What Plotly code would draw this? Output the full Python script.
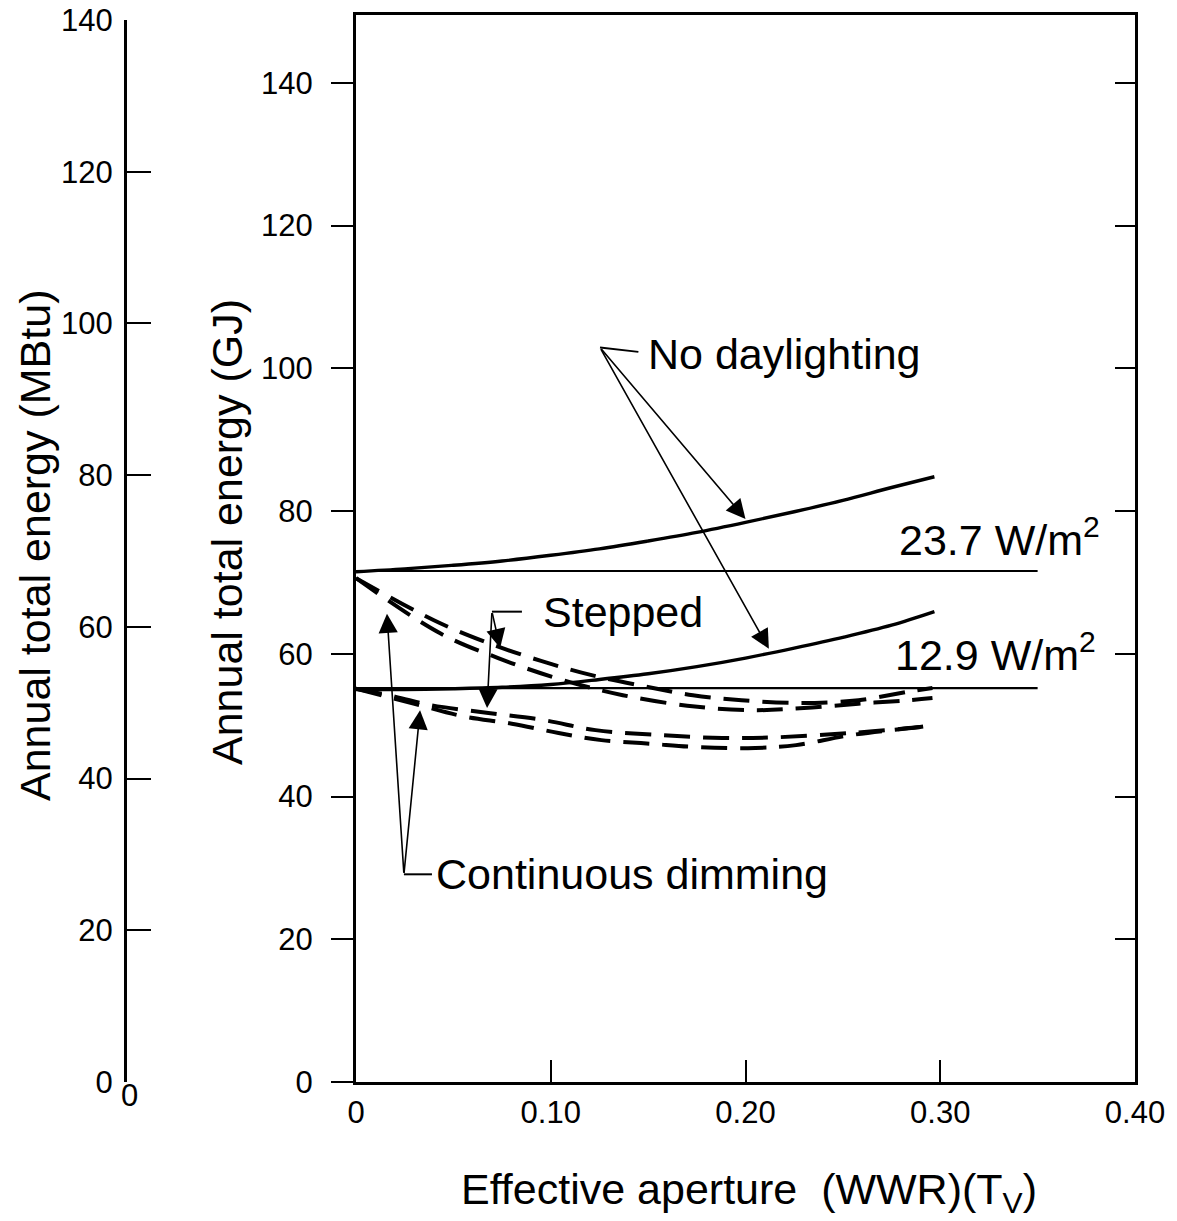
import plotly.graph_objects as go

# ---------------- data ----------------
# No daylighting curves (solid)
x_nd = [0, 0.025, 0.05, 0.075, 0.1, 0.125, 0.15, 0.175, 0.2, 0.225, 0.25, 0.275, 0.297]
nd_237 = [71.5, 71.9, 72.4, 73.0, 73.8, 74.7, 75.8, 77.0, 78.4, 79.9, 81.5, 83.3, 84.8]
nd_129 = [55.0, 55.0, 55.1, 55.3, 55.7, 56.4, 57.2, 58.2, 59.4, 60.8, 62.3, 64.0, 65.9]

# Base (no window) reference lines
x_base = [0, 0.35]
base_237 = [71.6, 71.6]
base_129 = [55.2, 55.2]

# Stepped / continuous dimming (dashed)
st_237_x = [0, 0.040, 0.066, 0.095, 0.121, 0.149, 0.173, 0.198, 0.228, 0.258, 0.284, 0.296]
st_237 = [70.6, 64.7, 61.7, 59.0, 57.0, 55.4, 54.2, 53.5, 53.1, 53.5, 54.7, 55.2]
cd_237_x = [0, 0.043, 0.073, 0.104, 0.137, 0.174, 0.205, 0.230, 0.258, 0.284, 0.296]
cd_237 = [70.6, 62.9, 59.4, 56.5, 54.2, 52.6, 52.1, 52.4, 53.0, 53.5, 53.8]
st_129_x = [0, 0.020, 0.0385, 0.068, 0.0965, 0.123, 0.157, 0.188, 0.216, 0.254, 0.288, 0.296]
st_129 = [55.1, 54.0, 52.8, 51.7, 50.7, 49.3, 48.6, 48.2, 48.3, 48.9, 49.7, 50.0]
cd_129_x = [0, 0.030, 0.054, 0.080, 0.104, 0.126, 0.151, 0.177, 0.205, 0.226, 0.254, 0.296]
cd_129 = [55.1, 53.0, 51.3, 50.2, 48.9, 47.9, 47.4, 46.9, 46.8, 47.2, 48.6, 49.9]

x_tickvals = [0, 0.1, 0.2, 0.3, 0.4]
x_ticktext = ["0", "0.10", "0.20", "0.30", "0.40"]
y_tickvals = [0, 20, 40, 60, 80, 100, 120, 140]
mbtu_tickvals = [0, 20, 40, 60, 80, 100, 120, 140]

# ---------------- figure ----------------
W, H = 1177, 1221
FONT = "Liberation Sans, Arial, Helvetica, sans-serif"
TICK = 31
fig = go.Figure()

solid = dict(color="black", width=3.4)
thin = dict(color="black", width=2.2)
dashed = dict(color="black", width=4, dash="26px,13px")

fig.add_trace(go.Scatter(x=x_base, y=base_237, mode="lines", line=thin))
fig.add_trace(go.Scatter(x=x_base, y=base_129, mode="lines", line=thin))
fig.add_trace(go.Scatter(x=x_nd, y=nd_237, mode="lines", line=dict(solid, shape="spline")))
fig.add_trace(go.Scatter(x=x_nd, y=nd_129, mode="lines", line=dict(solid, shape="spline")))
for xs, ys in [(st_237_x, st_237), (cd_237_x, cd_237), (st_129_x, st_129), (cd_129_x, cd_129)]:
    fig.add_trace(go.Scatter(x=xs, y=ys, mode="lines", line=dict(dashed, shape="spline")))

# invisible helpers so that the extra axes are drawn
fig.add_trace(go.Scatter(x=[0], y=[0], xaxis="x2", yaxis="y2", mode="markers",
                         marker=dict(opacity=0), hoverinfo="skip"))
fig.add_trace(go.Scatter(x=[0], y=[0], xaxis="x", yaxis="y3", mode="markers",
                         marker=dict(opacity=0), hoverinfo="skip"))

ymax = 149.5
fig.update_layout(
    width=W, height=H,
    margin=dict(l=0, r=0, t=0, b=0, pad=0, autoexpand=False),
    paper_bgcolor="white", plot_bgcolor="white",
    showlegend=False,
    font=dict(family=FONT, color="black", size=TICK),
    xaxis=dict(domain=[356 / W, 1135 / W], range=[0, 0.4], anchor="y",
               showline=True, linewidth=3, linecolor="black", mirror=True,
               ticks="inside", ticklen=22, tickwidth=2, tickcolor="black",
               tickvals=x_tickvals, ticktext=x_ticktext,
               tickfont=dict(size=TICK), ticklabelstandoff=1,
               showgrid=False, zeroline=False, automargin=False),
    yaxis=dict(domain=[139 / H, 1206 / H], range=[0, ymax], anchor="x",
               showline=True, linewidth=3, linecolor="black",
               ticks="outside", ticklen=22, tickwidth=2, tickcolor="black",
               tickvals=y_tickvals, tickfont=dict(size=TICK), ticklabelstandoff=12,
               showgrid=False, zeroline=False, automargin=False),
    yaxis3=dict(overlaying="y", side="right", anchor="x", range=[0, ymax],
                showline=True, linewidth=3, linecolor="black",
                ticks="inside", ticklen=20, tickwidth=2, tickcolor="black",
                tickvals=y_tickvals, showticklabels=False,
                showgrid=False, zeroline=False, automargin=False),
    xaxis2=dict(domain=[127 / W, 128 / W], anchor="y2", range=[0, 1], visible=False,
                automargin=False),
    yaxis2=dict(domain=[139 / H, 1201 / H], anchor="x2", range=[0, 140], side="left",
                showline=True, linewidth=3, linecolor="black",
                ticks="inside", ticklen=24, tickwidth=2, tickcolor="black",
                tickvals=mbtu_tickvals, tickfont=dict(size=TICK), ticklabelstandoff=5,
                showgrid=False, zeroline=False, automargin=False),
)

ann = []
TXT = 43
# axis titles
ann.append(dict(text="Annual total energy (GJ)", xref="paper", yref="paper",
                x=227 / W, y=(H - 532) / H, textangle=-90, showarrow=False,
                font=dict(size=TXT), xanchor="center", yanchor="middle"))
ann.append(dict(text="Annual total energy (MBtu)", xref="paper", yref="paper",
                x=35 / W, y=(H - 545) / H, textangle=-90, showarrow=False,
                font=dict(size=TXT), xanchor="center", yanchor="middle"))
ann.append(dict(text="Effective aperture  (WWR)(T<sub>V</sub>)", xref="paper", yref="paper",
                x=749 / W, y=(H - 1192) / H, showarrow=False,
                font=dict(size=TXT), xanchor="center", yanchor="middle"))
ann.append(dict(text="0", xref="paper", yref="paper", x=129 / W, y=(H - 1076) / H,
                showarrow=False, font=dict(size=TICK), xanchor="center", yanchor="top"))

# labels in data coordinates
ann.append(dict(text="No daylighting", x=0.149, y=102.0, xref="x", yref="y",
                showarrow=False, font=dict(size=TXT), xanchor="left", yanchor="middle"))
ann.append(dict(text="Stepped", x=0.095, y=65.9, xref="x", yref="y",
                showarrow=False, font=dict(size=TXT), xanchor="left", yanchor="middle"))
ann.append(dict(text="Continuous dimming", x=0.040, y=29.1, xref="x", yref="y",
                showarrow=False, font=dict(size=TXT), xanchor="left", yanchor="middle"))
ann.append(dict(text="23.7 W/m<sup>2</sup>", x=0.383, y=76.4, xref="x", yref="y",
                showarrow=False, font=dict(size=TXT), xanchor="right", yanchor="middle"))
ann.append(dict(text="12.9 W/m<sup>2</sup>", x=0.381, y=60.2, xref="x", yref="y",
                showarrow=False, font=dict(size=TXT), xanchor="right", yanchor="middle"))

# arrows: (tail x, tail y, head x, head y)
arrows = [
    (0.1253, 102.9, 0.200, 78.9),
    (0.1253, 102.9, 0.212, 60.7),
    (0.0698, 65.9, 0.074, 60.8),
    (0.0698, 65.9, 0.0673, 52.4),
    (0.0246, 29.1, 0.0159, 65.6),
    (0.0246, 29.1, 0.0329, 52.1),
]
for tx, ty, hx, hy in arrows:
    ann.append(dict(text="", x=hx, y=hy, ax=tx, ay=ty, xref="x", yref="y",
                    axref="x", ayref="y", showarrow=True, arrowhead=2,
                    arrowsize=2.4, arrowwidth=1.6, arrowcolor="black", standoff=0))
fig.update_layout(annotations=ann)

# short leader segments
leaders = [
    (0.1253, 102.9, 0.145, 102.3),
    (0.0698, 65.9, 0.0852, 65.9),
    (0.0246, 29.1, 0.039, 29.1),
]
for x0, y0, x1, y1 in leaders:
    fig.add_shape(type="line", x0=x0, y0=y0, x1=x1, y1=y1, xref="x", yref="y",
                  line=dict(color="black", width=2))

fig.write_html("out.html")
